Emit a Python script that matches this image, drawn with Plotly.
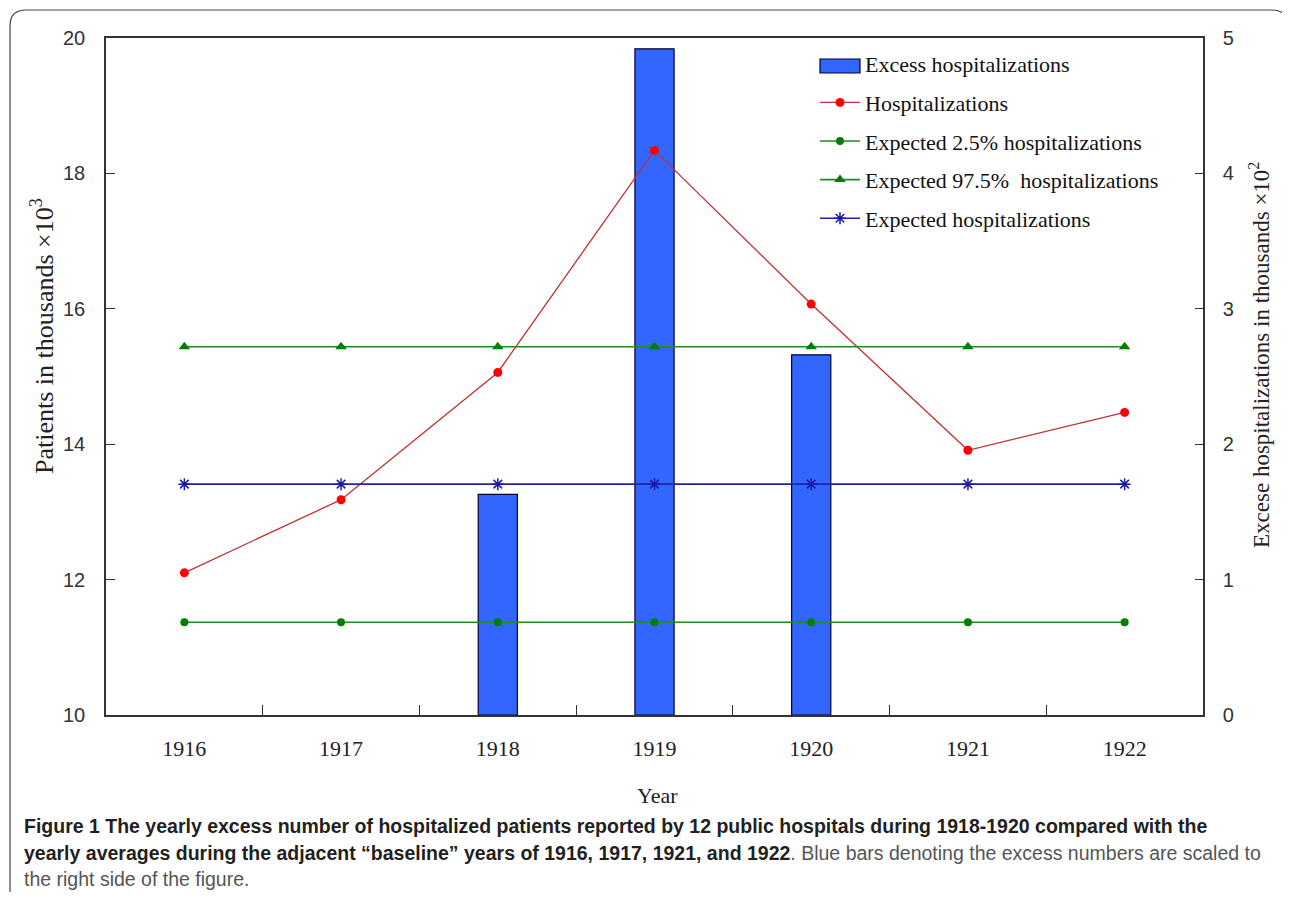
import plotly.graph_objects as go

years = ["1916", "1917", "1918", "1919", "1920", "1921", "1922"]
excess = [None, None, 1.63, 4.92, 2.66, None, None]          # right axis, thousands x10^2
hosp = [12.10, 13.18, 15.06, 18.34, 16.07, 13.91, 14.47]     # left axis, thousands x10^3
exp_lo = [11.37] * 7
exp_hi = [15.44] * 7
exp_mid = [13.41] * 7

OFF = 8                      # browser page margin
W, H = 1290 - 2 * OFF, 900 - 2 * OFF
L, R, T, B = 106, 1203, 38, 715   # plot area in reference-page pixels


def fx(px):
    return (px - L) / (R - L)


def fy(py):
    return (B - py) / (B - T)


serif = "Liberation Serif, Times New Roman, serif"
sans = "Liberation Sans, Arial, sans-serif"

BAR_FILL = "#3366ff"
BAR_EDGE = "#000033"

fig = go.Figure()

fig.add_trace(go.Bar(
    x=years, y=excess, name="Excess hospitalizations", yaxis="y",
    width=0.25, marker=dict(color=BAR_FILL, line=dict(color=BAR_EDGE, width=1.2)),
    showlegend=False,
))
# legend entry for the bars (swatch drawn as a wide rectangle below)
fig.add_trace(go.Scatter(
    x=[None], y=[None], name="Excess hospitalizations", yaxis="y", mode="lines",
    line=dict(color="rgba(0,0,0,0)", width=1), legendgroup="a", hoverinfo="skip",
))
fig.add_trace(go.Scatter(
    x=years, y=hosp, name="Hospitalizations", yaxis="y2", mode="lines+markers",
    line=dict(color="#c03030", width=1.3), marker=dict(color="#ff0000", size=9, symbol="circle"),
    legendgroup="b",
))
fig.add_trace(go.Scatter(
    x=years, y=exp_lo, name="Expected 2.5% hospitalizations", yaxis="y2", mode="lines+markers",
    line=dict(color="#1e8c1e", width=1.6), marker=dict(color="#008000", size=8, symbol="circle"),
    legendgroup="c",
))
fig.add_trace(go.Scatter(
    x=years, y=exp_hi, name="Expected 97.5%\u00a0 hospitalizations", yaxis="y2", mode="lines+markers",
    line=dict(color="#1e8c1e", width=1.6), marker=dict(color="#008000", size=10, symbol="triangle-up"),
    legendgroup="d",
))
fig.add_trace(go.Scatter(
    x=years, y=exp_mid, name="Expected hospitalizations", yaxis="y2", mode="lines+markers",
    line=dict(color="#2222aa", width=1.6),
    marker=dict(color="#1a1aa6", size=10, symbol="asterisk-open", line=dict(color="#1a1aa6", width=1.5)),
    legendgroup="e",
))

fig.update_layout(
    width=W, height=H,
    margin=dict(l=L - OFF, r=W - (R - OFF), t=T - OFF, b=H - (B - OFF)),
    paper_bgcolor="white", plot_bgcolor="white",
    showlegend=True,
    legend=dict(x=fx(815), y=fy(43), xanchor="left", yanchor="top",
                font=dict(family=serif, size=22, color="#111"),
                tracegroupgap=7, bgcolor="rgba(0,0,0,0)", itemwidth=40),
    xaxis=dict(type="category", range=[-0.5, 6.5], tickson="boundaries",
               ticks="inside", ticklen=10, tickcolor="#333", tickwidth=1.2,
               showline=True, linecolor="#333", linewidth=1.5, mirror=True,
               showgrid=False, zeroline=False,
               tickfont=dict(family=serif, size=22, color="#222"),
               ticklabelstandoff=13),
    yaxis=dict(side="right", range=[0, 5], dtick=1, ticks="inside", ticklen=8,
               tickcolor="#333", tickwidth=1.2, showline=True, linecolor="#333",
               linewidth=1.5, showgrid=False, zeroline=False,
               tickfont=dict(family=sans, size=20, color="#333"),
               ticklabelstandoff=14),
    yaxis2=dict(side="left", overlaying="y", range=[10, 20], dtick=2, ticks="inside",
                ticklen=9, tickcolor="#333", tickwidth=1.2, showline=True,
                linecolor="#333", linewidth=1.5, showgrid=False, zeroline=False,
                tickfont=dict(family=sans, size=20, color="#333"),
                ticklabelstandoff=15),
    bargap=0.75,
)

cap = dict(family=sans, size=19.5, color="#231f20")
annotations = [
    dict(text="Patients in thousands \u00d710<sup>3</sup>", x=fx(42), y=fy(336), textangle=-90,
         font=dict(family=serif, size=26, color="#222")),
    dict(text="Excese hospitalizations in thousands \u00d710<sup>2</sup>", x=fx(1259), y=fy(355),
         textangle=-90, font=dict(family=serif, size=23, color="#222")),
    dict(text="Year", x=fx(657), y=fy(795), font=dict(family=serif, size=22, color="#222")),
    dict(text="<b>Figure 1 The yearly excess number of hospitalized patients reported by 12 public "
              "hospitals during 1918-1920 compared with the</b>",
         x=fx(22), y=fy(826), xanchor="left", font=cap),
    dict(text="<b>yearly averages during the adjacent \u201cbaseline\u201d years of 1916, 1917, 1921, "
              "and 1922</b><span style='color:#555'>. Blue bars denoting the excess numbers are "
              "scaled to</span>",
         x=fx(22), y=fy(853), xanchor="left", font=cap),
    dict(text="<span style='color:#555'>the right side of the figure.</span>",
         x=fx(22), y=fy(879), xanchor="left", font=cap),
]
for a in annotations:
    a.setdefault("xanchor", "center")
    a.update(xref="paper", yref="paper", yanchor="middle", showarrow=False)
fig.update_layout(annotations=annotations)

# outer rounded frame (left and top edges)
border = (f"M {fx(10)},{fy(905)} L {fx(10)},{fy(26)} Q {fx(10)},{fy(10)} {fx(26)},{fy(10)} "
          f"L {fx(1272)},{fy(10)} Q {fx(1287)},{fy(10)} {fx(1288)},{fy(24)}")
fig.add_shape(type="path", path=border, xref="paper", yref="paper",
              line=dict(color="#444", width=1.2), layer="above")

# wide legend swatch for the bars
fig.add_shape(type="rect", xref="paper", yref="paper",
              x0=fx(820), x1=fx(860), y0=fy(59), y1=fy(73),
              fillcolor=BAR_FILL, line=dict(color=BAR_EDGE, width=1.2), layer="above")

fig.write_html("out.html")
